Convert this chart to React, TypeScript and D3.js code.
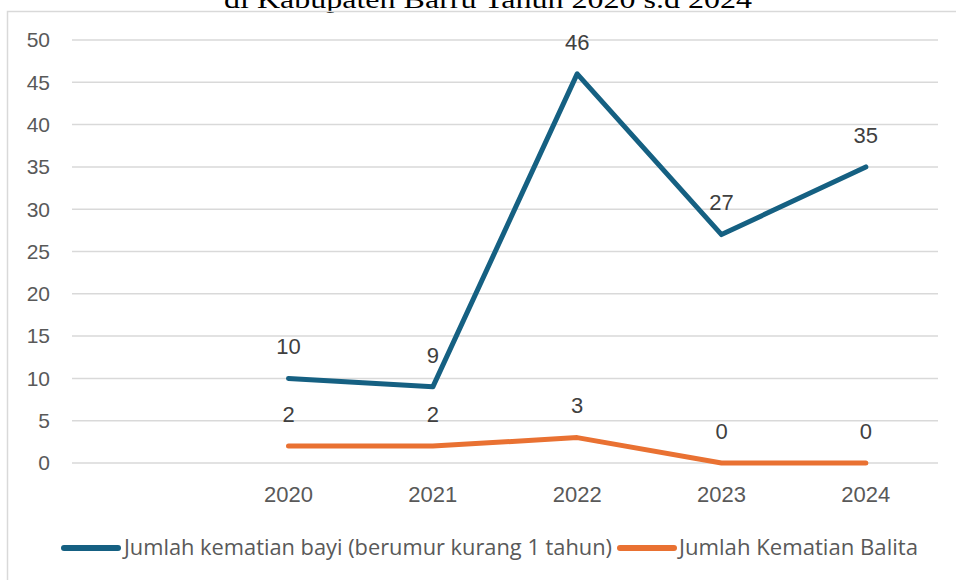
import React from "react";
import * as d3 from "d3";

const categories = ["", "2020", "2021", "2022", "2023", "2024"];
const bayi: (number | null)[] = [null, 10, 9, 46, 27, 35];
const balita: (number | null)[] = [null, 2, 2, 3, 0, 0];
const yTicks = [0, 5, 10, 15, 20, 25, 30, 35, 40, 45, 50];
const seriesNames = ["Jumlah kematian bayi (berumur kurang 1 tahun)", "Jumlah Kematian Balita"];
const titleText = "di Kabupaten Barru Tahun 2020 s.d 2024";

const W = 956;
const H = 580;
const colors = ["#156082", "#E97132"];

export default function App() {
  const x = d3.scaleBand<string>().domain(categories).range([72, 938]);
  const y = d3.scaleLinear().domain([0, 50]).range([463, 40]);
  const cx = (c: string) => (x(c) ?? 0) + x.bandwidth() / 2;

  const line = d3
    .line<{ c: string; v: number | null }>()
    .defined((d) => d.v !== null)
    .x((d) => cx(d.c))
    .y((d) => y(d.v as number));

  const series = [bayi, balita].map((vals) => categories.map((c, i) => ({ c, v: vals[i] })));
  const numFont = "Liberation Sans, Arial, sans-serif";

  return (
    <svg
      width={W}
      height={H}
      style={{ position: "absolute", left: 0, top: 0, background: "#fff" }}
    >
      <rect x={0} y={0} width={W} height={H} fill="#fff" />
      <text
        x={488}
        y={8}
        textAnchor="middle"
        fontFamily="Liberation Serif, Times New Roman, serif"
        fontSize={25}
        fill="#000"
        textLength={528}
        lengthAdjust="spacingAndGlyphs"
      >
        {titleText}
      </text>
      <path d={`M${W + 5},11.5 H7.5 V${H + 5}`} fill="none" stroke="#d9d9d9" strokeWidth={1.5} />
      {yTicks.map((t) => (
        <g key={t}>
          <line x1={72} x2={938} y1={y(t)} y2={y(t)} stroke="#d9d9d9" strokeWidth={1.5} />
          <text
            x={50}
            y={y(t)}
            dy="0.35em"
            textAnchor="end"
            fontFamily={numFont}
            fontSize={21}
            fill="#595959"
          >
            {t}
          </text>
        </g>
      ))}
      {categories.map((c) =>
        c ? (
          <text
            key={c}
            x={cx(c)}
            y={494}
            dy="0.35em"
            textAnchor="middle"
            fontFamily={numFont}
            fontSize={22}
            fill="#595959"
          >
            {c}
          </text>
        ) : null
      )}
      {series.map((s, i) => (
        <g key={i}>
          <path
            d={line(s) ?? ""}
            fill="none"
            stroke={colors[i]}
            strokeWidth={5}
            strokeLinejoin="round"
            strokeLinecap="round"
          />
          {s.map((d) =>
            d.v !== null ? (
              <text
                key={d.c}
                x={cx(d.c)}
                y={y(d.v) - 32}
                dy="0.35em"
                textAnchor="middle"
                fontFamily={numFont}
                fontSize={22}
                fill="#404040"
              >
                {d.v}
              </text>
            ) : null
          )}
        </g>
      ))}
      <g>
        <line x1={64} x2={118} y1={548} y2={548} stroke={colors[0]} strokeWidth={6} strokeLinecap="round" />
        <text
          x={124}
          y={548}
          dy="0.35em"
          fontFamily="Open Sans, Liberation Sans, sans-serif"
          fontSize={21}
          fill="#595959"
          textLength={488}
          lengthAdjust="spacingAndGlyphs"
        >
          {seriesNames[0]}
        </text>
        <line x1={620} x2={674} y1={548} y2={548} stroke={colors[1]} strokeWidth={6} strokeLinecap="round" />
        <text
          x={679}
          y={548}
          dy="0.35em"
          fontFamily="Open Sans, Liberation Sans, sans-serif"
          fontSize={21}
          fill="#595959"
          textLength={239}
          lengthAdjust="spacingAndGlyphs"
        >
          {seriesNames[1]}
        </text>
      </g>
    </svg>
  );
}
